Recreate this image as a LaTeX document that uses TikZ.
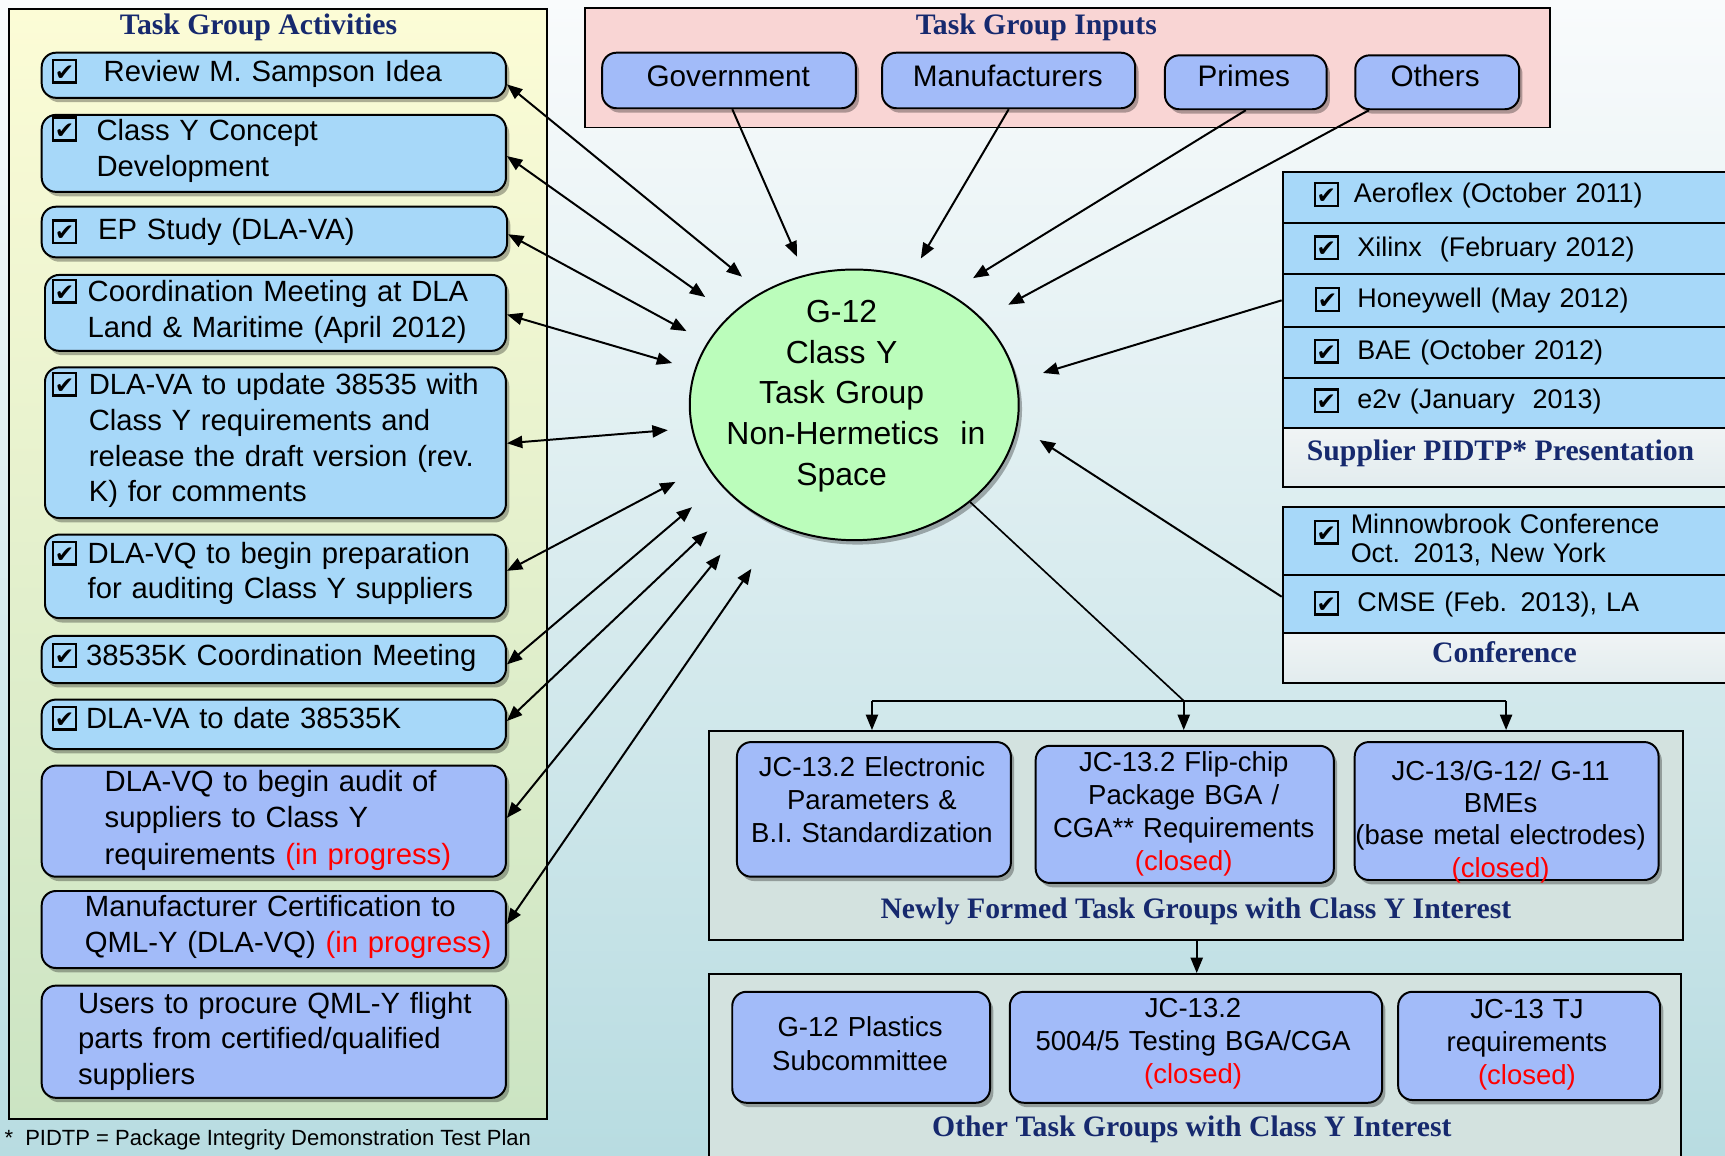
\documentclass[tikz,border=0pt]{standalone}
\usepackage{fontspec}
\setmainfont{Liberation Sans}
\newfontfamily\serf{Liberation Serif}
\newfontfamily\symf{DejaVu Sans}
\usetikzlibrary{arrows.meta,shadows,calc,shapes.geometric}
\definecolor{navy}{HTML}{16296E}
\definecolor{lblue}{HTML}{A7D8F9}
\definecolor{pblue}{HTML}{A2BBF9}
\definecolor{pinkbg}{HTML}{F9D5D4}
\definecolor{egreen}{HTML}{BBFDBB}
\definecolor{panelg}{HTML}{D3E2DF}
\definecolor{bgtop}{HTML}{F9FBFC}
\definecolor{bgbot}{HTML}{B8DCE1}
\definecolor{ytop}{HTML}{FCFCD6}
\definecolor{ybot}{HTML}{CBE4C3}
\definecolor{ttop}{HTML}{F0F4F5}
\definecolor{tbot}{HTML}{E2ECEE}
\newcommand{\cbx}{{\setlength{\fboxsep}{0pt}\setlength{\fboxrule}{2.2pt}\fbox{\makebox[18.5pt][c]{\rule{0pt}{18.5pt}\raisebox{1pt}{\symf\fontsize{21}{21}\selectfont ✔}}}}}
\newcommand{\redt}[1]{\textcolor{red}{#1}}
\begin{document}
\begin{tikzpicture}[x=1pt,y=-1pt,
  shd/.style={drop shadow={shadow xshift=3pt,shadow yshift=-4pt,opacity=0.3,fill=black}},
  rbx/.style={draw=black,line width=1.8pt,rounded corners=13pt,anchor=north west,inner sep=0pt,shd},
  lbx/.style={rbx,fill=lblue},
  pbx/.style={rbx,fill=pblue},
  pnl/.style={draw=black,line width=1.8pt,anchor=north west,inner sep=0pt},
  cell/.style={draw=black,line width=1.8pt,anchor=north west,inner sep=0pt,minimum width=420pt,fill=lblue},
  tcell/.style={cell,top color=ttop,bottom color=tbot},
  txt/.style={anchor=base west,inner sep=0pt,align=left,text width=385pt,font=\fontsize{26.6}{33}\selectfont},
  rtxt/.style={anchor=base west,inner sep=0pt,align=left,text width=330pt,font=\fontsize{24.5}{26.7}\selectfont},
  ctxt/.style={anchor=base,inner sep=0pt,align=center,text width=330pt,font=\fontsize{25}{30}\selectfont},
  ck/.style={anchor=base west,inner sep=0pt},
  ttl/.style={anchor=base,inner sep=0pt,text=navy,font=\serf\bfseries\fontsize{27}{30}\selectfont},
  topb/.style={pbx},
  toptx/.style={anchor=base,inner sep=0pt,font=\fontsize{27}{30}\selectfont},
  arw/.style={line width=1.8pt,-{Triangle[length=14pt,width=11pt]}},
  darw/.style={line width=1.8pt,{Triangle[length=14pt,width=11pt]}-{Triangle[length=14pt,width=11pt]}},
]
\useasboundingbox (0,0) rectangle (1568,1050);
\shade[top color=bgtop,bottom color=bgbot] (0,0) rectangle (1568,1050);

% ---------- left panel ----------
\node[pnl,minimum width=489pt,minimum height=1009pt,top color=ytop,bottom color=ybot] (lp) at (7.5,7.5) {};
\node[ttl] (lpt) at (235,31.8) {Task Group Activities};

\node[lbx,minimum width=422pt,minimum height=41pt] (b1) at (37,47) {};
\node[lbx,minimum width=422pt,minimum height=70pt] (b2) at (37,103.5) {};
\node[lbx,minimum width=423pt,minimum height=46pt] (b3) at (37,187) {};
\node[lbx,minimum width=419pt,minimum height=69pt] (b4) at (40,249) {};
\node[lbx,minimum width=419pt,minimum height=137pt] (b5) at (40,333) {};
\node[lbx,minimum width=419pt,minimum height=76pt] (b6) at (40,485) {};
\node[lbx,minimum width=422pt,minimum height=43pt] (b7) at (37,577) {};
\node[lbx,minimum width=422pt,minimum height=45pt] (b8) at (37,635) {};
\node[pbx,minimum width=422pt,minimum height=101pt] (b9) at (37,695) {};
\node[pbx,minimum width=422pt,minimum height=70pt] (b10) at (37,809) {};
\node[pbx,minimum width=422pt,minimum height=102pt] (b11) at (37,895) {};

\node[ck] (c1) at (47,74) {\cbx};
\node[ck] (c2) at (47,126.5) {\cbx};
\node[ck] (c3) at (47,220) {\cbx};
\node[ck] (c4) at (47,274) {\cbx};
\node[ck] (c5) at (47,358.5) {\cbx};
\node[ck] (c6) at (47,512) {\cbx};
\node[ck] (c7) at (47,605) {\cbx};
\node[ck] (c8) at (47,662) {\cbx};

\node[txt] (t1) at (94,74.2) {Review M. Sampson Idea};
\node[txt] (t2) at (87.6,127.3) {Class Y Concept\\Development};
\node[txt] (t3) at (89,218) {EP Study (DLA-VA)};
\node[txt] (t4) at (79.5,274) {Coordination Meeting at DLA\\Land \& Maritime (April 2012)};
\node[txt,font=\fontsize{26.6}{32.4}\selectfont] (t5) at (80.5,359) {DLA-VA to update 38535 with\\Class Y requirements and\\release the draft version (rev.\\K) for comments};
\node[txt,font=\fontsize{26.6}{32}\selectfont] (t6) at (79.5,512) {DLA-VQ to begin preparation\\for auditing Class Y suppliers};
\node[txt] (t7) at (78,604.5) {38535K Coordination Meeting};
\node[txt] (t8) at (78,662) {DLA-VA to date 38535K};
\node[txt] (t9) at (95,719.6) {DLA-VQ to begin audit of\\suppliers to Class Y\\requirements \redt{(in progress)}};
\node[txt] (t10) at (77,833) {Manufacturer Certification to\\QML-Y (DLA-VQ) \redt{(in progress)}};
\node[txt,font=\fontsize{26.6}{32.5}\selectfont] (t11) at (70.8,921) {Users to procure QML-Y flight\\parts from certified/qualified\\suppliers};

\node[anchor=base west,inner sep=0pt,font=\fontsize{20}{20}\selectfont] (fn) at (4,1041) {*\hspace{11pt}PIDTP = Package Integrity Demonstration Test Plan};

% ---------- top panel ----------
\node[pnl,minimum width=877.5pt,minimum height=108.3pt,fill=pinkbg] (tp) at (530.5,6.7) {};
\node[ttl] (tpt) at (942,31.8) {Task Group Inputs};
\node[topb,minimum width=230.5pt,minimum height=50.5pt] (gov) at (546.5,47) {};
\node[topb,minimum width=230pt,minimum height=50.5pt] (man) at (801,47) {};
\node[topb,minimum width=147pt,minimum height=49pt] (pri) at (1058,49.4) {};
\node[topb,minimum width=149pt,minimum height=49pt] (oth) at (1231,49.4) {};
\node[toptx] (govt) at (662,78.3) {Government};
\node[toptx] (mant) at (916,78.3) {Manufacturers};
\node[toptx] (prit) at (1130.5,78.8) {Primes};
\node[toptx] (otht) at (1304.5,78.8) {Others};

% ---------- ellipse ----------
\node[ellipse,draw=black,line width=1.8pt,fill=egreen,minimum width=299pt,minimum height=246pt,inner sep=0pt,shd] (ell) at (776.5,368) {};
\node[anchor=base,inner sep=0pt,align=center,text width=320pt,font=\fontsize{29}{37}\selectfont] (etx) at (765,293) {G-12\\Class Y\\Task Group\\\hspace*{26pt}Non-Hermetics\ \ in\\Space};

% ---------- supplier table ----------
\node[cell,minimum height=46.4pt] (r1) at (1165,155) {};
\node[cell,minimum height=46.4pt] (r2) at (1165,201.4) {};
\node[cell,minimum height=48.6pt] (r3) at (1165,247.8) {};
\node[cell,minimum height=46.6pt] (r4) at (1165,296.4) {};
\node[cell,minimum height=45pt] (r5) at (1165,343) {};
\node[tcell,minimum height=54pt] (rs) at (1165,388) {};
\node[ck] (rc1) at (1194,186) {\cbx};
\node[ck] (rc2) at (1194,234.5) {\cbx};
\node[ck] (rc3) at (1195,281.5) {\cbx};
\node[ck] (rc4) at (1194,328.5) {\cbx};
\node[ck] (rc5) at (1194,373.5) {\cbx};
\node[rtxt] (rt1) at (1230.5,184) {Aeroflex (October 2011)};
\node[rtxt] (rt2) at (1233.7,232.7) {Xilinx\ \ (February 2012)};
\node[rtxt] (rt3) at (1233.7,279.8) {Honeywell (May 2012)};
\node[rtxt] (rt4) at (1233.7,326.8) {BAE (October 2012)};
\node[rtxt] (rt5) at (1233.7,371.6) {e2v (January\ \ 2013)};
\node[ttl] (rst) at (1364,419) {Supplier PIDTP* Presentation};

% ---------- conference table ----------
\node[cell,minimum height=62pt] (m1) at (1165,460) {};
\node[cell,minimum height=52.4pt] (m2) at (1165,522) {};
\node[tcell,minimum height=45.6pt] (mt) at (1165,574.4) {};
\node[ck] (mc1) at (1194,493) {\cbx};
\node[ck] (mc2) at (1194,557.5) {\cbx};
\node[rtxt] (mt1) at (1227.6,485) {Minnowbrook Conference\\Oct. 2013, New York};
\node[rtxt] (mt2) at (1233.7,555.6) {CMSE (Feb. 2013), LA};
\node[ttl] (mtt) at (1367.6,602.6) {Conference};

% ---------- lower panels ----------
\node[pnl,minimum width=885.4pt,minimum height=190.2pt,fill=panelg] (nf) at (643.6,663.6) {};
\node[pnl,minimum width=883.4pt,minimum height=185pt,fill=panelg] (ot) at (643.6,884.5) {};

\node[pbx,minimum width=249pt,minimum height=122.4pt] (e1) at (669,673.6) {};
\node[pbx,minimum width=271pt,minimum height=124.7pt] (e2) at (940.5,677) {};
\node[pbx,minimum width=276.2pt,minimum height=125.4pt] (e3) at (1230.5,673.6) {};
\node[pbx,minimum width=234.3pt,minimum height=100.9pt] (o1) at (664.7,900.6) {};
\node[pbx,minimum width=338.4pt,minimum height=100.9pt] (o2) at (917,900.6) {};
\node[pbx,minimum width=238pt,minimum height=98.4pt] (o3) at (1270,900.6) {};

\node[ctxt] (et1) at (792.6,706) {JC-13.2 Electronic\\Parameters \&\\B.I. Standardization};
\node[ctxt,font=\fontsize{25}{29.8}\selectfont] (et2) at (1076,701.5) {JC-13.2 Flip-chip\\Package BGA /\\CGA** Requirements\\\redt{(closed)}};
\node[ctxt,font=\fontsize{25}{29.4}\selectfont] (et3) at (1364,709) {JC-13/G-12/ G-11\\BMEs\\(base metal electrodes)\\\redt{(closed)}};
\node[ctxt,font=\fontsize{25}{31}\selectfont] (ot1) at (781.8,941.7) {G-12 Plastics\\Subcommittee};
\node[ctxt] (ot2) at (1084.5,925) {JC-13.2\\5004/5 Testing BGA/CGA\\\redt{(closed)}};
\node[ctxt] (ot3) at (1388,925.5) {JC-13 TJ\\requirements\\\redt{(closed)}};
\node[ttl] (nft) at (1087,834.5) {Newly Formed Task Groups with Class Y Interest};
\node[ttl] (ott) at (1083.4,1033.3) {Other Task Groups with Class Y Interest};

% ---------- connectors ----------
\coordinate (p1) at (674.5,251.5);
\coordinate (p2) at (641,270);
\coordinate (p3) at (624,301);
\coordinate (p4) at (611,330);
\coordinate (p5) at (607,391);
\coordinate (p6) at (614,438);
\coordinate (p7) at (629,461);
\coordinate (p8) at (643,483);
\coordinate (p9) at (655,504);
\coordinate (p10) at (683,517);
\draw[darw] ($(b1.east)+(0,8.3)$) -- (p1);
\draw[darw] ($(b2.east)+(0,2.5)$) -- (p2);
\draw[darw] ($(b3.east)+(0,2)$) -- (p3);
\draw[darw] ($(b4.east)+(0,1.5)$) -- (p4);
\draw[darw] ($(b5.east)+(0,0.5)$) -- (p5);
\draw[darw] ($(b6.east)+(0,-5)$) -- (p6);
\draw[darw] ($(b7.east)+(0,4.5)$) -- (p7);
\draw[darw] ($(b8.east)+(0,-3)$) -- (p8);
\draw[darw] ($(b9.east)+(0,-3)$) -- (p9);
\draw[darw] ($(b10.east)+(0,-5)$) -- (p10);

\coordinate (q1) at (724.5,233.4);
\coordinate (q2) at (837,235);
\coordinate (q3) at (884.5,252.8);
\coordinate (q4) at (916.5,277);
\coordinate (q5) at (948,339);
\coordinate (q6) at (945,400);
\draw[arw] ($(gov.south)+(3,0)$) -- (q1);
\draw[arw] (man.south) -- (q2);
\draw[arw] (pri.south) -- (q3);
\draw[arw] ($(oth.south)+(-62,0)$) -- (q4);
\draw[arw] (r3.west) -- (q5);
\draw[arw] ($(m2.west)+(0,-6.7)$) -- (q6);

\coordinate (jn) at (1076,637);
\coordinate (jl) at (792.6,637);
\coordinate (jr) at (1369,637);
\coordinate (ax) at (1087.8,0);
\draw[line width=1.5pt] (ell.-40) -- (jn);
\draw[line width=1.8pt] (jl) -- (jr);
\draw[arw] (jl) -- (jl |- nf.north);
\draw[arw] (jn) -- (jn |- nf.north);
\draw[arw] (jr) -- (jr |- nf.north);
\draw[arw] (nf.south -| ax) -- (ot.north -| ax);
\end{tikzpicture}
\end{document}
